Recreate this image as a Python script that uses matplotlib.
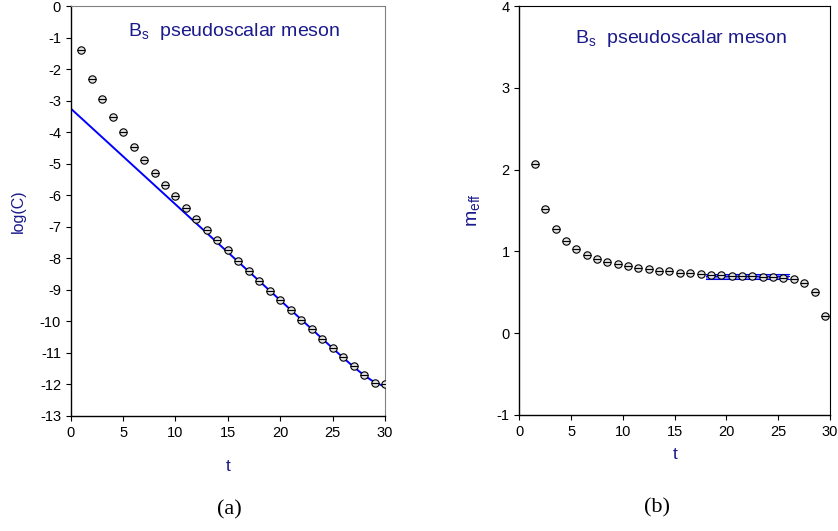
import matplotlib
matplotlib.use("Agg")
import matplotlib.pyplot as plt
import numpy as np

# ---- data ----
t_corr = list(range(1, 31))
log_corr = [-1.40, -2.30, -2.96, -3.51, -4.01, -4.47, -4.89, -5.28, -5.66, -6.03,
            -6.39, -6.75, -7.09, -7.43, -7.75, -8.07, -8.40, -8.72, -9.03, -9.33,
            -9.65, -9.95, -10.25, -10.55, -10.86, -11.14, -11.43, -11.71, -11.94, -12.00]

t_fit = [0, 5, 10, 15, 20, 25, 26, 27, 28, 29, 30]
log_fit = [-3.25, -4.77, -6.29, -7.81, -9.33, -10.85, -11.15, -11.44, -11.71, -11.93, -12.07]

t_meff = [1.5, 2.5, 3.5, 4.5, 5.5, 6.5, 7.5, 8.5, 9.5, 10.5, 11.5, 12.5, 13.5, 14.5, 15.5,
          16.5, 17.5, 18.5, 19.5, 20.5, 21.5, 22.5, 23.5, 24.5, 25.5, 26.5, 27.5, 28.5, 29.5]
meff = [2.07, 1.52, 1.275, 1.13, 1.034, 0.961, 0.912, 0.875, 0.843, 0.819, 0.798, 0.782,
        0.765, 0.758, 0.741, 0.733, 0.725, 0.713, 0.709, 0.704, 0.700, 0.697, 0.692,
        0.685, 0.676, 0.660, 0.619, 0.500, 0.208]

band_t = [18, 26]
band_center = [0.694, 0.694]
band_low = [0.668, 0.668]
band_high = [0.720, 0.720]

title_text = r"B$_\mathregular{s}$  pseudoscalar meson"

plt.rcParams['font.family'] = ['Liberation Sans', 'DejaVu Sans']
plt.rcParams['axes.unicode_minus'] = False
navy = '#1a1a8c'

fig = plt.figure(figsize=(8.38, 5.31), dpi=100)
ax1 = fig.add_axes([0.0844, 0.2166, 0.375, 0.7721])
ax2 = fig.add_axes([0.6197, 0.2185, 0.3708, 0.7702])

mk = dict(marker='o', markersize=5.3, markerfacecolor='#e0e0e0', markeredgecolor='black',
          markeredgewidth=0.8, linestyle='none', zorder=3)
bar = dict(marker='_', markersize=5.3, markeredgecolor='black', markeredgewidth=0.8,
           linestyle='none', zorder=4)

# left panel
ax1.plot(t_fit, log_fit, color='#0000ff', lw=1.4, zorder=2)
ax1.plot(t_corr, log_corr, **mk)
ax1.plot(t_corr, log_corr, **bar)
ax1.set_xlim(0, 30)
ax1.set_ylim(-13, 0)
ax1.set_xticks(range(0, 31, 5))
ax1.set_yticks(range(-13, 1))
for s in ['top', 'right']:
    ax1.spines[s].set_color('#808080')
ax1.set_xlabel('t', color=navy, fontsize=12.5, labelpad=14)
ax1.set_ylabel('log(C)', color=navy, fontsize=11.5, labelpad=10)
ax1.text(0.52, 0.937, title_text, transform=ax1.transAxes, ha='center', va='center',
         color=navy, fontsize=14)

# right panel
ax2.fill_between(band_t, band_low, band_high, color='#5a5aff', alpha=0.75, lw=0, zorder=1)
ax2.plot(band_t, band_high, color='#0000ff', lw=0.8, zorder=2)
ax2.plot(band_t, band_low, color='#0000ff', lw=0.8, zorder=2)
ax2.plot(band_t, band_center, color='#0000ff', lw=0.8, zorder=2)
ax2.plot(t_meff, meff, **mk)
ax2.plot(t_meff, meff, **bar)
ax2.set_xlim(0, 30)
ax2.set_ylim(-1, 4)
ax2.set_xticks(range(0, 31, 5))
ax2.set_yticks(range(-1, 5))
ax2.set_xlabel('t', color=navy, fontsize=12.5, labelpad=6)
ax2.set_ylabel(r'm$_\mathregular{eff}$', color=navy, fontsize=14, labelpad=10)
ax2.text(0.52, 0.921, title_text, transform=ax2.transAxes, ha='center', va='center',
         color=navy, fontsize=14)

for ax in (ax1, ax2):
    ax.tick_params(direction='out', length=3.5, width=0.8, labelsize=10.5, top=False, right=False)
    ax.spines['left'].set_linewidth(1.0)
    ax.spines['bottom'].set_linewidth(1.0)

fig.text(229 / 838, 1 - 510 / 531, '(a)', family=['Liberation Serif', 'DejaVu Serif'],
         fontsize=16, ha='center', va='center')
fig.text(657 / 838, 1 - 508 / 531, '(b)', family=['Liberation Serif', 'DejaVu Serif'],
         fontsize=16, ha='center', va='center')

fig.savefig('out.png', dpi=100)
